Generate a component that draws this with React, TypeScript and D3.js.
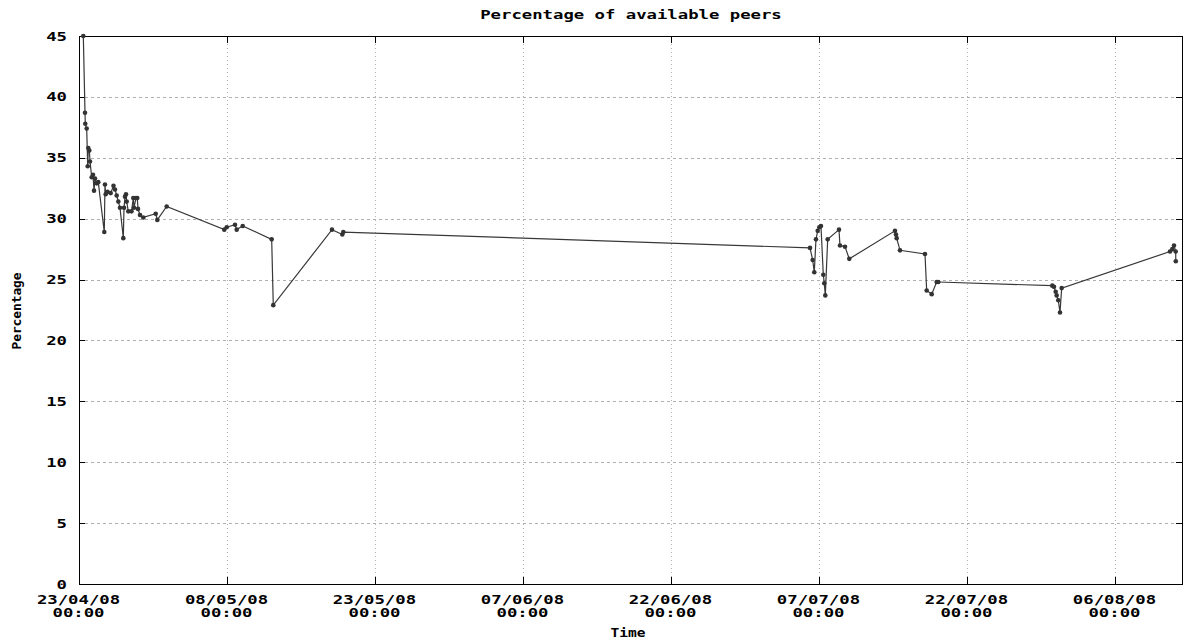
import React from 'react';
import * as d3 from 'd3';

const chartTitle = 'Percentage of available peers';
const xAxisLabel = 'Time';
const yAxisLabel = 'Percentage';

const sampleTimes = [
  '2008-04-23 10:30', '2008-04-23 14:36', '2008-04-23 15:18', '2008-04-23 18:42', '2008-04-23 21:12',
  '2008-04-23 22:36', '2008-04-24 01:06', '2008-04-24 02:48', '2008-04-24 06:54', '2008-04-24 10:06',
  '2008-04-24 12:30', '2008-04-24 14:54', '2008-04-24 19:06', '2008-04-24 22:54', '2008-04-25 13:30',
  '2008-04-25 15:12', '2008-04-25 16:54', '2008-04-25 21:18', '2008-04-26 05:06', '2008-04-26 11:54',
  '2008-04-26 15:36', '2008-04-26 19:42', '2008-04-26 23:36', '2008-04-27 03:42', '2008-04-27 11:48',
  '2008-04-27 13:30', '2008-04-27 15:54', '2008-04-27 18:18', '2008-04-27 20:00', '2008-04-27 23:54',
  '2008-04-28 07:42', '2008-04-28 12:06', '2008-04-28 13:48', '2008-04-28 18:42', '2008-04-28 21:48',
  '2008-04-28 23:30', '2008-04-29 04:24', '2008-04-29 12:24', '2008-04-30 18:36', '2008-04-30 22:30',
  '2008-05-01 21:18', '2008-05-07 17:24', '2008-05-07 23:18', '2008-05-08 19:30', '2008-05-08 23:36',
  '2008-05-09 14:12', '2008-05-12 12:42', '2008-05-12 16:36', '2008-05-18 15:24', '2008-05-19 16:30',
  '2008-05-19 18:54', '2008-07-06 02:12', '2008-07-06 08:42', '2008-07-06 12:36', '2008-07-06 16:42',
  '2008-07-06 20:54', '2008-07-07 00:48', '2008-07-07 04:54', '2008-07-07 10:30', '2008-07-07 12:54',
  '2008-07-07 15:24', '2008-07-07 21:12', '2008-07-09 00:42', '2008-07-09 03:06', '2008-07-09 15:18',
  '2008-07-10 01:42', '2008-07-14 16:54', '2008-07-14 19:18', '2008-07-14 21:00', '2008-07-15 05:06',
  '2008-07-17 17:54', '2008-07-17 22:00', '2008-07-18 10:12', '2008-07-18 22:18', '2008-07-19 02:12',
  '2008-07-30 15:30', '2008-07-30 19:42', '2008-07-30 23:48', '2008-07-31 02:12', '2008-07-31 06:06',
  '2008-07-31 10:18', '2008-07-31 14:24', '2008-08-11 13:54', '2008-08-11 19:30', '2008-08-11 23:36',
  '2008-08-12 03:42', '2008-08-12 04:00',
];

const sampleValues = [
  45.0, 38.7, 37.8, 37.4, 34.3,
  35.8, 35.6, 34.7, 33.4, 33.6,
  32.3, 33.3, 32.9, 33.0, 28.9,
  32.8, 32.0, 32.2, 32.1, 32.7,
  32.4, 31.9, 31.4, 30.9, 28.4,
  30.9, 31.8, 32.0, 31.4, 30.6,
  30.6, 31.7, 30.9, 31.7, 31.7,
  30.8, 30.3, 30.1, 30.4, 29.9,
  31.0, 29.1, 29.3, 29.5, 29.1,
  29.4, 28.3, 22.9, 29.1, 28.7,
  28.9, 27.6, 26.6, 25.6, 28.3,
  29.0, 29.3, 29.4, 25.4, 24.7,
  23.7, 28.3, 29.1, 27.8, 27.7,
  26.7, 29.0, 28.7, 28.4, 27.4,
  27.1, 24.1, 23.8, 24.8, 24.8,
  24.5, 24.4, 24.0, 23.7, 23.3,
  22.3, 24.3, 27.3, 27.5, 27.8,
  27.3, 26.5,
];

const yTickValues = [0, 5, 10, 15, 20, 25, 30, 35, 40, 45];
const xTickDates = [
  '2008-04-23 00:00', '2008-05-08 00:00', '2008-05-23 00:00', '2008-06-07 00:00',
  '2008-06-22 00:00', '2008-07-07 00:00', '2008-07-22 00:00', '2008-08-06 00:00',
];
const xDomain = ['2008-04-23 00:00', '2008-08-12 21:30'];
const yDomain = [0, 45];

const FONT = "'DejaVu Sans Mono', 'Liberation Mono', monospace";
const CHAR_W = 10.4;

export default function App() {
  const W = 1184;
  const H = 641;
  const left = 79, right = 1183, top = 36, bottom = 584;
  const parse = d3.utcParse('%Y-%m-%d %H:%M');
  const x = d3.scaleUtc().domain(xDomain.map((s) => parse(s) as Date)).range([left, right]);
  const y = d3.scaleLinear().domain(yDomain).range([bottom, top]);
  const fmtDate = d3.utcFormat('%d/%m/%y');
  const fmtTime = d3.utcFormat('%H:%M');

  const pts = sampleTimes.map((t, i) => ({ t: parse(t) as Date, v: sampleValues[i] }));
  const line = d3.line<{ t: Date; v: number }>().x((d) => x(d.t)).y((d) => y(d.v));
  const ticks = xTickDates.map((s) => parse(s) as Date);

  const txt = (s: string, props: any) => (
    <text
      fontFamily={FONT}
      fontWeight="bold"
      fontSize={13}
      fill="#000"
      textLength={s.length * CHAR_W}
      lengthAdjust="spacingAndGlyphs"
      {...props}
    >
      {s}
    </text>
  );

  return (
    <svg width={W} height={H} style={{ position: 'absolute', left: 0, top: 0, background: '#fff' }}>
      <rect x={0} y={0} width={W} height={H} fill="#fff" />
      {yTickValues.filter((v) => v > yDomain[0] && v < yDomain[1]).map((v) => (
        <line key={'hg' + v} x1={left} x2={right} y1={Math.round(y(v)) + 0.5} y2={Math.round(y(v)) + 0.5}
          stroke="#b0b0b0" strokeWidth={1} strokeDasharray="3,3" />
      ))}
      {ticks.filter((d) => x(d) > left + 1).map((d, i) => (
        <line key={'vg' + i} x1={Math.round(x(d)) + 0.5} x2={Math.round(x(d)) + 0.5} y1={top} y2={bottom}
          stroke="#b0b0b0" strokeWidth={1} strokeDasharray="1,3" />
      ))}
      {yTickValues.map((v) => (
        <g key={'yt' + v}>
          <line x1={left} x2={left + 6} y1={Math.round(y(v)) + 0.5} y2={Math.round(y(v)) + 0.5} stroke="#000" />
          <line x1={right - 7} x2={right} y1={Math.round(y(v)) + 0.5} y2={Math.round(y(v)) + 0.5} stroke="#000" />
          {txt(String(v), { x: 67, y: y(v) + 4.5, textAnchor: 'end' })}
        </g>
      ))}
      {ticks.map((d, i) => (
        <g key={'xt' + i}>
          <line x1={Math.round(x(d)) + 0.5} x2={Math.round(x(d)) + 0.5} y1={bottom} y2={bottom - 7} stroke="#000" />
          <line x1={Math.round(x(d)) + 0.5} x2={Math.round(x(d)) + 0.5} y1={top} y2={top + 7} stroke="#000" />
          {txt(fmtDate(d), { x: x(d) - 0.5, y: 604, textAnchor: 'middle' })}
          {txt(fmtTime(d), { x: x(d) - 0.5, y: 617, textAnchor: 'middle' })}
        </g>
      ))}
      <rect x={left + 0.5} y={top + 0.5} width={right - left - 1} height={bottom - top} fill="none" stroke="#000" strokeWidth={1} />
      <path d={line(pts) || ''} fill="none" stroke="#383838" strokeWidth={1.2} />
      {pts.map((p, i) => (
        <circle key={'p' + i} cx={x(p.t)} cy={y(p.v)} r={2.3} fill="#333" />
      ))}
      {txt(chartTitle, { x: (left + right) / 2, y: 19, textAnchor: 'middle' })}
      <text fontFamily={FONT} fontWeight="bold" fontSize={12} textLength={35} lengthAdjust="spacingAndGlyphs"
        x={628} y={637} textAnchor="middle">{xAxisLabel}</text>
      <text fontFamily={FONT} fontWeight="bold" fontSize={12} textLength={77} lengthAdjust="spacingAndGlyphs"
        transform="translate(21,311) rotate(-90)" textAnchor="middle">{yAxisLabel}</text>
    </svg>
  );
}
